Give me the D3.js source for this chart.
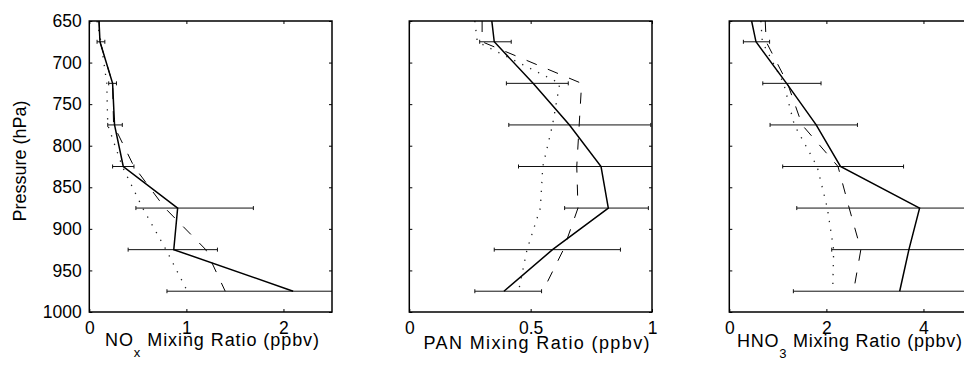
<!DOCTYPE html>
<html>
<head>
<meta charset="utf-8">
<script src="https://cdn.jsdelivr.net/npm/d3@7"></script>
<style>
  body { margin: 0; background: #fff; }
  svg { display: block; }
  text { font-family: "Liberation Sans", Arial, Helvetica, sans-serif; fill: #000; }
</style>
</head>
<body>
<div id="chart"></div>
<script>
// pressure levels (hPa) of the profiles and of the error bars
const pressure = [650, 675, 725, 775, 825, 875, 925, 975];
const barPressure = [675, 725, 775, 825, 875, 925, 975];
const pressureTicks = [650, 700, 750, 800, 850, 900, 950, 1000];

// NOx (ppbv)
const noxSolid  = [0.10, 0.11, 0.24, 0.26, 0.35, 0.91, 0.87, 2.10];
const noxDashed = [0.10, 0.11, 0.24, 0.25, 0.46, 0.78, 1.20, 1.40];
const noxDotted = [0.08, 0.12, 0.18, 0.19, 0.34, 0.55, 0.79, 1.01];
const noxLow    = [0.08, 0.20, 0.19, 0.24, 0.48, 0.40, 0.80];
const noxHigh   = [0.16, 0.28, 0.34, 0.46, 1.69, 1.32, 3.40];
const noxTicks  = [0, 1, 2];

// PAN (ppbv)
const panSolid  = [0.34, 0.35, 0.51, 0.66, 0.79, 0.82, 0.59, 0.39];
const panDashed = [0.30, 0.30, 0.71, 0.70, 0.69, 0.695, 0.635, 0.55];
const panDotted = [0.27, 0.28, 0.62, 0.59, 0.55, 0.54, 0.485, 0.45];
const panLow    = [0.29, 0.40, 0.41, 0.45, 0.64, 0.35, 0.27];
const panHigh   = [0.42, 0.655, 0.995, 1.12, 0.985, 0.87, 0.545];
const panTicks  = [0, 0.5, 1];

// HNO3 (ppbv)
const hno3Solid  = [0.46, 0.55, 1.18, 1.79, 2.29, 3.92, 3.70, 3.51];
const hno3Dashed = [0.74, 0.76, 1.20, 1.50, 2.24, 2.47, 2.71, 2.56];
const hno3Dotted = [0.65, 0.68, 1.12, 1.34, 1.81, 2.02, 2.15, 2.13];
const hno3Low    = [0.29, 0.69, 0.84, 1.10, 1.39, 2.11, 1.32];
const hno3High   = [0.83, 1.89, 2.64, 3.59, 6.40, 5.30, 5.70];
const hno3Ticks  = [0, 2, 4];

const panels = [
  { domain: [0, 2.5], ticks: noxTicks, solid: noxSolid, dashed: noxDashed, dotted: noxDotted,
    low: noxLow, high: noxHigh, title: ["NO", "x", " Mixing Ratio (ppbv)"],
    titleX: 212, titleY: 346, titleW: 214 },
  { domain: [0, 1], ticks: panTicks, solid: panSolid, dashed: panDashed, dotted: panDotted,
    low: panLow, high: panHigh, title: ["PAN Mixing Ratio (ppbv)"],
    titleX: 536.5, titleY: 349, titleW: 226 },
  { domain: [0, 5], ticks: hno3Ticks, solid: hno3Solid, dashed: hno3Dashed, dotted: hno3Dotted,
    low: hno3Low, high: hno3High, title: ["HNO", "3", " Mixing Ratio (ppbv)"],
    titleX: 849.5, titleY: 346.5, titleW: 225 }
];

const width = 964, height = 365;
const plotTop = 21, plotBottom = 312;
const plotW = 242.7;
const lefts = [89.3, 409.3, 729.3];

const svg = d3.select("#chart").append("svg")
  .attr("width", width)
  .attr("height", height);

const y = d3.scaleLinear().domain([650, 1000]).range([plotTop, plotBottom]);

function styleAxis(sel) {
  sel.select(".domain").remove();
  sel.attr("font-size", null).attr("font-family", null);
  sel.selectAll(".tick line").attr("stroke", "#000").attr("stroke-width", 1);
  sel.selectAll("text").style("font-size", "17.5px");
}

panels.forEach((p, i) => {
  const x0 = lefts[i];
  const x = d3.scaleLinear().domain(p.domain).range([x0, x0 + plotW]);
  const g = svg.append("g");

  g.append("clipPath").attr("id", "clip" + i)
    .append("rect")
    .attr("x", x0).attr("y", plotTop)
    .attr("width", plotW).attr("height", plotBottom - plotTop);

  const plot = g.append("g").attr("clip-path", `url(#clip${i})`);

  // error bars
  const bars = barPressure.map((pr, k) => ({ p: pr, lo: p.low[k], hi: p.high[k] }));
  const eb = plot.append("g").attr("stroke", "#111").attr("stroke-width", 1).attr("fill", "none");
  eb.selectAll("line.bar").data(bars).join("line").attr("class", "bar")
    .attr("x1", d => x(d.lo)).attr("x2", d => x(d.hi))
    .attr("y1", d => y(d.p)).attr("y2", d => y(d.p));
  eb.selectAll("line.capl").data(bars).join("line").attr("class", "capl")
    .attr("x1", d => x(d.lo)).attr("x2", d => x(d.lo))
    .attr("y1", d => y(d.p) - 2).attr("y2", d => y(d.p) + 2);
  eb.selectAll("line.caph").data(bars).join("line").attr("class", "caph")
    .attr("x1", d => x(d.hi)).attr("x2", d => x(d.hi))
    .attr("y1", d => y(d.p) - 2).attr("y2", d => y(d.p) + 2);

  const line = d3.line().x(d => x(d.v)).y(d => y(d.p));
  const series = [
    { vals: p.dotted, dash: "1.3,7.6", w: 1.3, color: "#222" },
    { vals: p.dashed, dash: "11,12", w: 1, color: "#000" },
    { vals: p.solid, dash: null, w: 1.5, color: "#000" }
  ];
  series.forEach(s => {
    plot.append("path")
      .datum(pressure.map((pr, k) => ({ p: pr, v: s.vals[k] })))
      .attr("fill", "none")
      .attr("stroke", s.color)
      .attr("stroke-width", s.w)
      .attr("stroke-dasharray", s.dash)
      .attr("d", line);
  });

  // axes: ticks inside on all four sides
  g.append("g").attr("transform", `translate(0,${plotBottom})`)
    .call(d3.axisBottom(x).tickValues(p.ticks).tickSizeInner(-3).tickSizeOuter(0)
      .tickPadding(9.2).tickFormat(d => String(d)))
    .call(styleAxis);
  g.append("g").attr("transform", `translate(0,${plotTop})`)
    .call(d3.axisTop(x).tickValues(p.ticks).tickSizeInner(-3).tickSizeOuter(0).tickFormat(""))
    .call(styleAxis);
  g.append("g").attr("transform", `translate(${x0},0)`)
    .call(d3.axisLeft(y).tickValues(pressureTicks).tickSizeInner(-3).tickSizeOuter(0)
      .tickPadding(7.6).tickFormat(i === 0 ? d => String(d) : ""))
    .call(styleAxis);
  g.append("g").attr("transform", `translate(${x0 + plotW},0)`)
    .call(d3.axisRight(y).tickValues(pressureTicks).tickSizeInner(-3).tickSizeOuter(0).tickFormat(""))
    .call(styleAxis);

  g.append("rect")
    .attr("x", x0).attr("y", plotTop)
    .attr("width", plotW).attr("height", plotBottom - plotTop)
    .attr("fill", "none").attr("stroke", "#000").attr("stroke-width", 1.5);

  // x axis title (with subscript when needed), stretched to the width seen
  const t = g.append("text")
    .attr("x", p.titleX).attr("y", p.titleY)
    .attr("text-anchor", "middle")
    .attr("textLength", p.titleW)
    .attr("lengthAdjust", "spacing")
    .style("font-size", "18px");
  if (p.title.length === 1) {
    t.text(p.title[0]);
  } else {
    t.append("tspan").text(p.title[0]);
    t.append("tspan").attr("dy", 11).style("font-size", "13px").text(p.title[1]);
    t.append("tspan").attr("dy", -11).text(p.title[2]);
  }
});

svg.append("text")
  .attr("transform", "translate(26,161) rotate(-90)")
  .attr("text-anchor", "middle")
  .style("font-size", "18px")
  .text("Pressure (hPa)");
</script>
</body>
</html>
